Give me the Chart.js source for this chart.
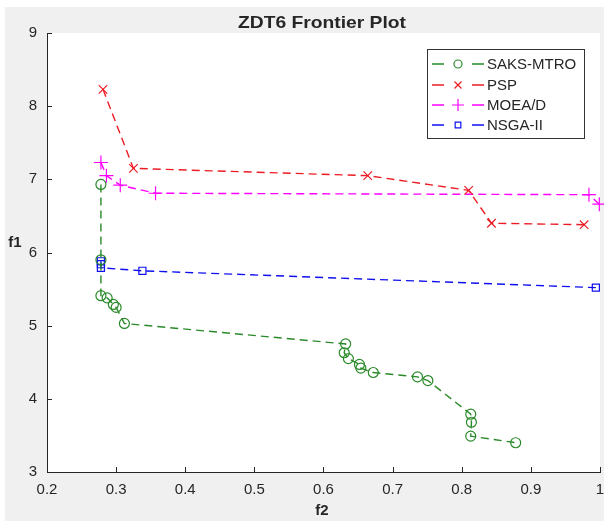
<!DOCTYPE html>
<html>
<head>
<meta charset="utf-8">
<title>ZDT6 Frontier Plot</title>
<script src="https://cdn.jsdelivr.net/npm/chart.js@4/dist/chart.umd.min.js"></script>
<style>
html, body { margin: 0; padding: 0; background: #fff; }
#wrap { width: 604px; height: 521px; }
</style>
</head>
<body>
<div id="wrap"><canvas id="frontierChart" width="604" height="521"></canvas></div>
<script>
// values (x = f2, y = f1)
const saksF2 = [0.278, 0.278, 0.278, 0.287, 0.296, 0.300, 0.312, 0.632, 0.630, 0.636, 0.652, 0.654, 0.672, 0.736, 0.751, 0.813, 0.814, 0.813, 0.878];
const saksF1 = [6.93, 5.90, 5.41, 5.38, 5.29, 5.25, 5.03, 4.75, 4.63, 4.55, 4.47, 4.42, 4.36, 4.30, 4.25, 3.79, 3.68, 3.49, 3.40];

const pspF2 = [0.281, 0.325, 0.664, 0.810, 0.843, 0.977];
const pspF1 = [8.23, 7.15, 7.05, 6.85, 6.40, 6.38];

const moeadF2 = [0.278, 0.286, 0.306, 0.357, 0.984, 0.999];
const moeadF1 = [7.23, 7.05, 6.92, 6.81, 6.79, 6.66];

const nsgaF2 = [0.278, 0.278, 0.278, 0.338, 0.994];
const nsgaF1 = [5.88, 5.84, 5.79, 5.75, 5.52];

const seriesNames = ['SAKS-MTRO', 'PSP', 'MOEA/D', 'NSGA-II'];
const xTickLabels = ['0.2', '0.3', '0.4', '0.5', '0.6', '0.7', '0.8', '0.9', '1'];
const yTickLabels = ['3', '4', '5', '6', '7', '8', '9'];

const FONT = "'Liberation Sans', Arial, Helvetica, sans-serif";
const TEXT = '#262626';

function toPoints(xs, ys) {
    return xs.map((x, i) => ({ x: x, y: ys[i] }));
}

function makeSet(label, xs, ys, color, style, radius) {
    return {
        label: label,
        data: toPoints(xs, ys),
        showLine: true,
        borderColor: color,
        borderWidth: 1.4,
        borderDash: [8, 5],
        backgroundColor: 'rgba(0,0,0,0)',
        pointStyle: style,
        pointRadius: radius,
        pointBorderColor: color,
        pointBackgroundColor: 'rgba(0,0,0,0)',
        pointBorderWidth: 1.2,
        clip: false
    };
}

const datasets = [
    makeSet(seriesNames[0], saksF2, saksF1, '#2a8a2a', 'circle', 5),
    makeSet(seriesNames[1], pspF2, pspF1, '#ec1c24', 'crossRot', 6),
    makeSet(seriesNames[2], moeadF2, moeadF1, '#ff00ff', 'cross', 7),
    makeSet(seriesNames[3], nsgaF2, nsgaF1, '#1010f0', 'rect', 5)
];

// figure background, white axes box
const backdrop = {
    id: 'backdrop',
    beforeDraw(chart) {
        const ctx = chart.ctx;
        const a = chart.chartArea;
        ctx.save();
        ctx.fillStyle = '#ffffff';
        ctx.fillRect(0, 0, chart.width, chart.height);
        ctx.fillStyle = '#f0f0f0';
        ctx.fillRect(5, 7, chart.width - 5, chart.height - 7);
        ctx.fillStyle = '#ffffff';
        ctx.fillRect(a.left, a.top, a.right - a.left, a.bottom - a.top);
        ctx.restore();
    }
};

// inward tick marks, title, axis names and legend
const decorations = {
    id: 'decorations',
    afterDraw(chart) {
        const ctx = chart.ctx;
        const a = chart.chartArea;
        const xs = chart.scales.x;
        const ys = chart.scales.y;
        ctx.save();
        ctx.strokeStyle = TEXT;
        ctx.lineWidth = 1;
        xs.ticks.forEach((t, i) => {
            const px = Math.round(xs.getPixelForTick(i)) + 0.5;
            ctx.beginPath();
            ctx.moveTo(px, a.bottom);
            ctx.lineTo(px, a.bottom - 5);
            ctx.stroke();
        });
        ys.ticks.forEach((t, i) => {
            const py = Math.round(ys.getPixelForTick(i)) + 0.5;
            ctx.beginPath();
            ctx.moveTo(a.left, py);
            ctx.lineTo(a.left + 5, py);
            ctx.stroke();
        });

        // title
        ctx.fillStyle = TEXT;
        ctx.textBaseline = 'middle';
        ctx.textAlign = 'center';
        ctx.font = 'bold 17px ' + FONT;
        const title = 'ZDT6 Frontier Plot';
        const w = ctx.measureText(title).width;
        ctx.save();
        ctx.translate(322, 23);
        ctx.scale(168 / w, 1);
        ctx.fillText(title, 0, 0);
        ctx.restore();

        ctx.font = 'bold 15px ' + FONT;
        ctx.fillText('f2', 322, 511);
        ctx.fillText('f1', 15, 243);

        // legend
        const box = { l: 427.5, t: 49.5, w: 157, h: 89 };
        ctx.fillStyle = '#ffffff';
        ctx.fillRect(box.l, box.t, box.w, box.h);
        ctx.strokeStyle = '#333333';
        ctx.lineWidth = 1;
        ctx.strokeRect(box.l, box.t, box.w, box.h);
        const rowY = [64, 85, 105, 125];
        chart.data.datasets.forEach((ds, i) => {
            const y = rowY[i];
            ctx.strokeStyle = ds.borderColor;
            ctx.lineWidth = 1.3;
            ctx.beginPath();
            ctx.moveTo(432, y); ctx.lineTo(444, y);
            ctx.moveTo(472, y); ctx.lineTo(484, y);
            ctx.stroke();
            ctx.fillStyle = 'rgba(0,0,0,0)';
            ctx.lineWidth = 1.2;
            Chart.helpers.drawPoint(ctx, {
                pointStyle: ds.pointStyle,
                radius: ds.pointRadius - 1,
                rotation: 0,
                borderWidth: 1.2
            }, 458, y);
            ctx.fillStyle = TEXT;
            ctx.textAlign = 'left';
            ctx.font = '15px ' + FONT;
            ctx.fillText(ds.label, 487, y + 1);
        });
        ctx.restore();
    }
};

const ctx = document.getElementById('frontierChart').getContext('2d');
const chart = new Chart(ctx, {
    type: 'scatter',
    data: { datasets: datasets },
    options: {
        responsive: false,
        animation: false,
        layout: {
            autoPadding: false,
            padding: { top: 33, right: 4, left: 0, bottom: 0 }
        },
        plugins: {
            legend: { display: false },
            tooltip: { enabled: false },
            title: { display: false }
        },
        scales: {
            x: {
                type: 'linear',
                min: 0.2,
                max: 1,
                grid: { display: false, drawTicks: false },
                border: { display: true, color: TEXT, width: 1 },
                ticks: {
                    stepSize: 0.1,
                    padding: 9,
                    color: TEXT,
                    font: { family: FONT, size: 15 },
                    maxRotation: 0,
                    callback: (v, i) => xTickLabels[i]
                },
                afterFit: s => {
                    s.height = 49;
                    s.paddingLeft = 0;
                    s.paddingRight = 0;
                }
            },
            y: {
                type: 'linear',
                min: 3,
                max: 9,
                grid: { display: false, drawTicks: false },
                border: { display: true, color: TEXT, width: 1 },
                ticks: {
                    stepSize: 1,
                    padding: 10,
                    color: TEXT,
                    font: { family: FONT, size: 15 },
                    callback: (v, i) => yTickLabels[i]
                },
                afterFit: s => {
                    s.width = 47;
                    s.paddingTop = 0;
                    s.paddingBottom = 0;
                }
            }
        }
    },
    plugins: [backdrop, decorations]
});
</script>
</body>
</html>
